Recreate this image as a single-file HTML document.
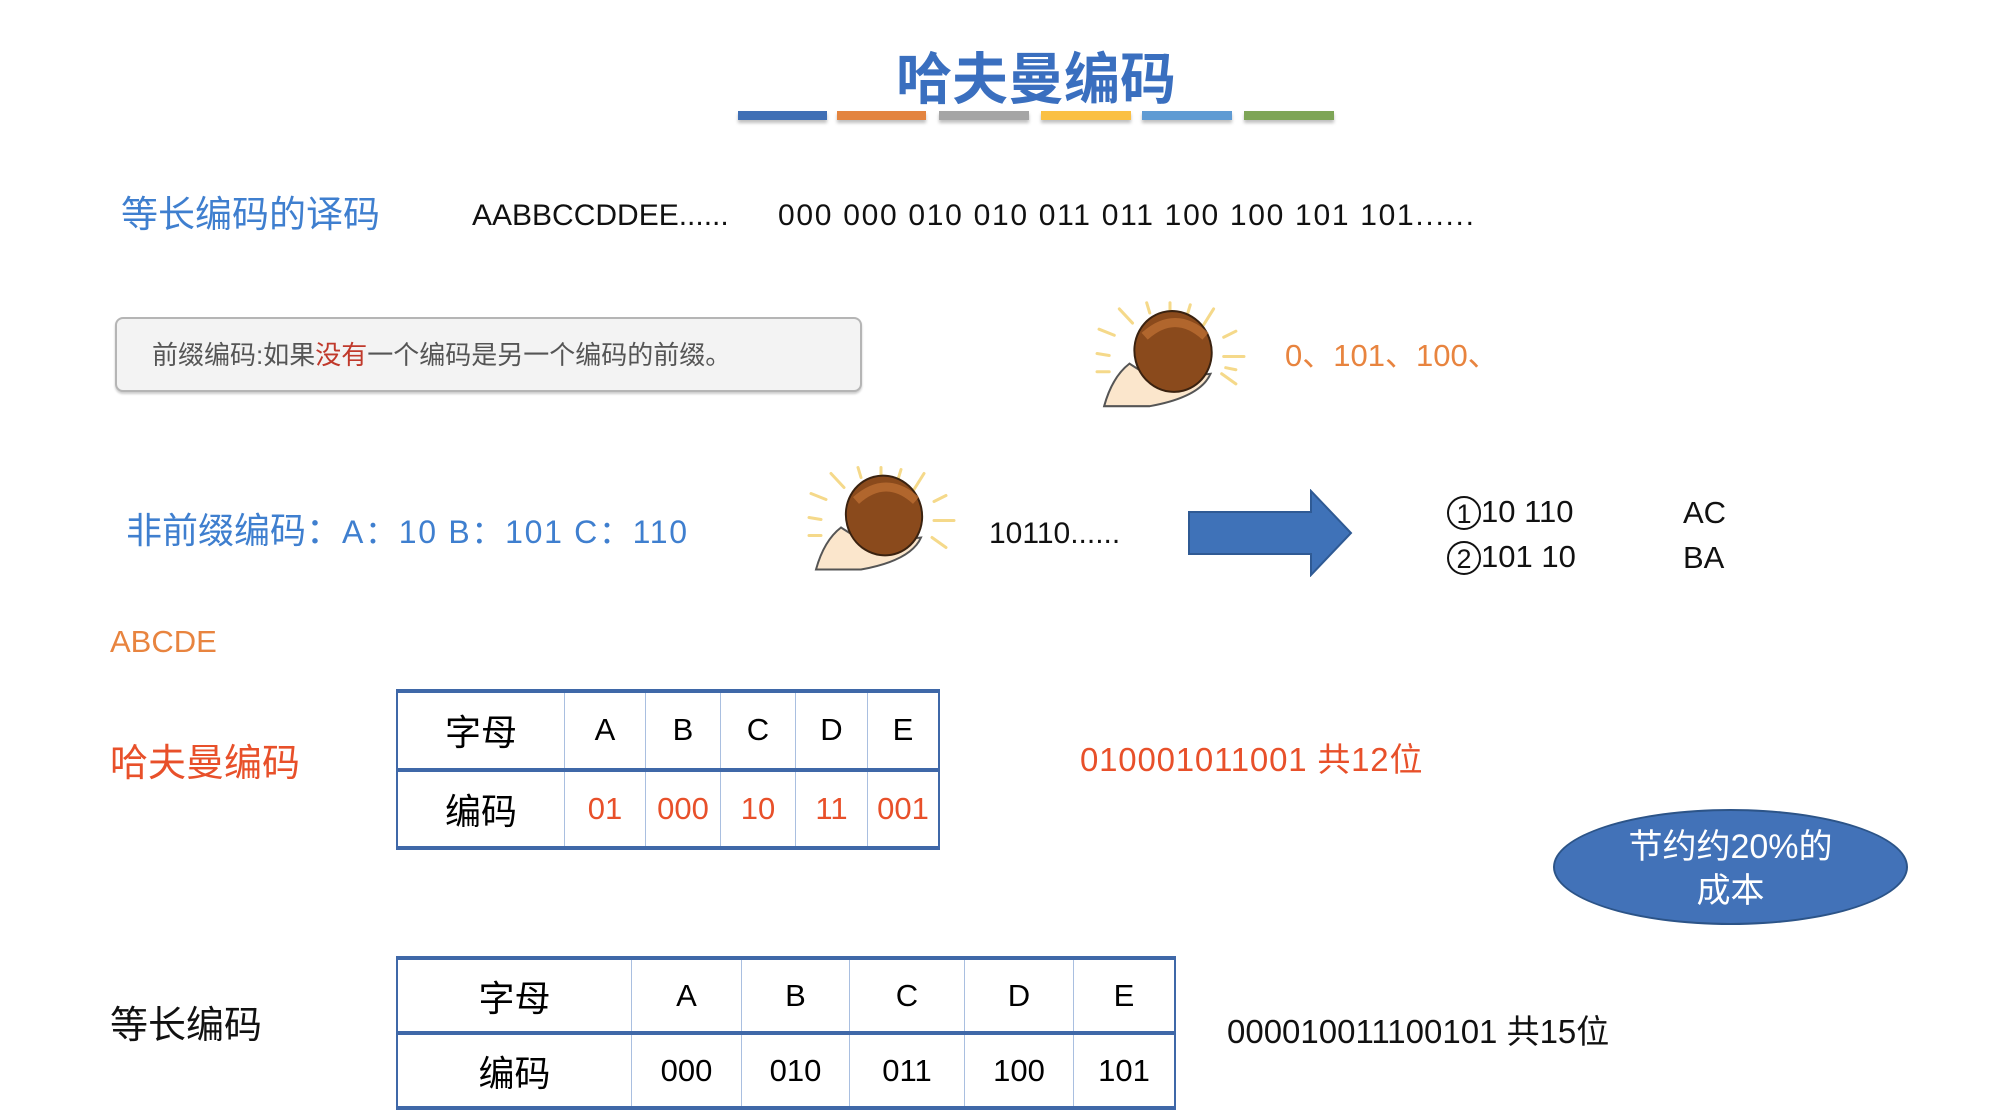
<!DOCTYPE html>
<html><head><meta charset="utf-8"><style>
body{margin:0;width:2000px;height:1108px;background:#fff;position:relative;overflow:hidden;font-family:"Liberation Sans","Noto Sans CJK SC",sans-serif;}
.a{position:absolute;white-space:nowrap;line-height:1;}
.bar{position:absolute;top:111px;height:9px;box-shadow:0 3px 3px rgba(0,0,0,.25);}
table{position:absolute;border-collapse:collapse;border-top:4px solid #3f68a8;border-bottom:4px solid #3f68a8;}
td{border-left:1px solid #a9bfe0;border-right:1px solid #a9bfe0;text-align:center;padding:0;font-size:31px;}
td.f{border-left:2px solid #3f68a8;}
td.l{border-right:2px solid #3f68a8;}
tr.r1 td{border-bottom:4px solid #3f68a8;}
.or{color:#e8502a;}
</style></head><body>
<div class="a" style="left:0;width:2072px;text-align:center;top:52px;font-size:56px;font-weight:bold;color:#3a6fbf;">哈夫曼编码</div>
<div class="bar" style="left:738px;width:89px;background:#3f6fb5"></div>
<div class="bar" style="left:837px;width:89px;background:#e3843f"></div>
<div class="bar" style="left:939px;width:90px;background:#a5a5a5"></div>
<div class="bar" style="left:1041px;width:90px;background:#fac044"></div>
<div class="bar" style="left:1142px;width:90px;background:#5f9bd3"></div>
<div class="bar" style="left:1244px;width:90px;background:#7ea556"></div>

<div class="a" style="left:121px;top:196px;font-size:37px;color:#3f7fcf;">等长编码的译码</div>
<div class="a" style="left:472px;top:201px;font-size:30px;color:#111;">AABBCCDDEE......</div>
<div class="a" style="left:778px;top:201px;font-size:30px;color:#111;letter-spacing:1.7px;">000 000 010 010 011 011 100 100 101 101......</div>

<div class="a" style="left:115px;top:317px;width:743px;height:71px;border:2px solid #b5b5b5;border-radius:8px;background:#f3f3f3;box-shadow:0 2px 2px rgba(0,0,0,.2);"></div>
<div class="a" style="left:152px;top:342px;font-size:26px;color:#555;">前缀编码:如果<span style="color:#c0392b">没有</span>一个编码是另一个编码的前缀。</div>

<svg class="a" style="left:1094px;top:300px" width="152" height="108" viewBox="0 0 150 105">
<g stroke="#f5d98a" stroke-width="3" stroke-linecap="round">
<line x1="5" y1="28" x2="20" y2="34"/><line x1="25" y1="8" x2="38" y2="22"/><line x1="52" y1="2" x2="55" y2="12"/><line x1="75" y1="2" x2="75" y2="10"/><line x1="95" y1="4" x2="92" y2="14"/><line x1="118" y1="8" x2="108" y2="24"/><line x1="140" y1="30" x2="128" y2="36"/><line x1="148" y1="55" x2="128" y2="55"/><line x1="140" y1="82" x2="126" y2="72"/><line x1="3" y1="70" x2="15" y2="70"/><line x1="3" y1="52" x2="15" y2="54"/><line x1="140" y1="68" x2="130" y2="66"/></g>
<path d="M10 104 Q18 75 35 62 L60 78 L115 72 Q105 95 55 104 Z" fill="#fbe6cc" stroke="#555" stroke-width="2"/>
<ellipse cx="78" cy="50" rx="38" ry="40" fill="#8a4a1c" stroke="#3a2210" stroke-width="2" transform="rotate(-15 78 50)"/>
<path d="M50 35 Q80 8 110 35" fill="none" stroke="#c27234" stroke-width="9" opacity=".7"/>
</svg>
<div class="a" style="left:1285px;top:340px;font-size:31px;color:#e8843f;">0、101、100、</div>

<div class="a" style="left:126px;top:513px;font-size:36px;color:#3f7fcf;">非前缀编码：<span style="font-size:32px;letter-spacing:1.7px">A：10 B：101 C：110</span></div>
<svg class="a" style="left:806px;top:464px" width="150" height="108" viewBox="0 0 150 105">
<g stroke="#f5d98a" stroke-width="3" stroke-linecap="round">
<line x1="5" y1="28" x2="20" y2="34"/><line x1="25" y1="8" x2="38" y2="22"/><line x1="52" y1="2" x2="55" y2="12"/><line x1="75" y1="2" x2="75" y2="10"/><line x1="95" y1="4" x2="92" y2="14"/><line x1="118" y1="8" x2="108" y2="24"/><line x1="140" y1="30" x2="128" y2="36"/><line x1="148" y1="55" x2="128" y2="55"/><line x1="140" y1="82" x2="126" y2="72"/><line x1="3" y1="70" x2="15" y2="70"/><line x1="3" y1="52" x2="15" y2="54"/></g>
<path d="M10 104 Q18 75 35 62 L60 78 L115 72 Q105 95 55 104 Z" fill="#fbe6cc" stroke="#555" stroke-width="2"/>
<ellipse cx="78" cy="50" rx="38" ry="40" fill="#8a4a1c" stroke="#3a2210" stroke-width="2" transform="rotate(-15 78 50)"/>
<path d="M50 35 Q80 8 110 35" fill="none" stroke="#c27234" stroke-width="9" opacity=".7"/>
</svg>
<div class="a" style="left:989px;top:519px;font-size:30px;color:#111;">10110......</div>
<svg class="a" style="left:1187px;top:489px" width="168" height="88"><polygon points="2,23 124,23 124,2 164,44 124,86 124,65 2,65" fill="#3f72b8" stroke="#2f5a94" stroke-width="2"/></svg>
<div class="a" style="left:1447px;top:496px;font-size:31px;color:#111;"><span style="display:inline-block;width:34px;height:34px;border:2px solid #111;border-radius:50%;text-align:center;font-size:27px;line-height:32px;box-sizing:border-box;vertical-align:top">1</span>10 110</div>
<div class="a" style="left:1447px;top:541px;font-size:31px;color:#111;"><span style="display:inline-block;width:34px;height:34px;border:2px solid #111;border-radius:50%;text-align:center;font-size:27px;line-height:32px;box-sizing:border-box;vertical-align:top">2</span>101 10</div>
<div class="a" style="left:1683px;top:497px;font-size:31px;color:#111;">AC</div>
<div class="a" style="left:1683px;top:542px;font-size:31px;color:#111;">BA</div>

<div class="a" style="left:110px;top:626px;font-size:31px;color:#e8843f;">ABCDE</div>
<div class="a" style="left:110px;top:745px;font-size:38px;color:#e8502a;">哈夫曼编码</div>
<table style="left:396px;top:689px;width:544px;height:161px;">
<tr class="r1"><td class="f" style="width:166px;font-size:36px">字母</td><td style="width:80px">A</td><td style="width:74px">B</td><td style="width:74px">C</td><td style="width:71px">D</td><td class="l">E</td></tr>
<tr><td class="f" style="font-size:36px">编码</td><td class="or">01</td><td class="or">000</td><td class="or">10</td><td class="or">11</td><td class="l or">001</td></tr>
</table>
<div class="a" style="left:1080px;top:743px;font-size:33px;color:#e8502a;letter-spacing:0.8px;">010001011001 共12位</div>
<div class="a" style="left:1553px;top:809px;width:355px;height:116px;border:2px solid #2c5488;border-radius:50%;background:#4272b8;color:#fff;font-size:34px;text-align:center;line-height:44px;padding-top:14px;box-sizing:border-box;white-space:normal;">节约约20%的<br>成本</div>

<div class="a" style="left:110px;top:1007px;font-size:38px;color:#111;">等长编码</div>
<table style="left:396px;top:956px;width:780px;height:154px;">
<tr class="r1"><td class="f" style="width:233px;font-size:36px">字母</td><td style="width:109px">A</td><td style="width:107px">B</td><td style="width:114px">C</td><td style="width:108px">D</td><td class="l">E</td></tr>
<tr><td class="f" style="font-size:36px">编码</td><td>000</td><td>010</td><td>011</td><td>100</td><td class="l">101</td></tr>
</table>
<div class="a" style="left:1227px;top:1015px;font-size:33px;color:#111;">000010011100101 共15位</div>
</body></html>
